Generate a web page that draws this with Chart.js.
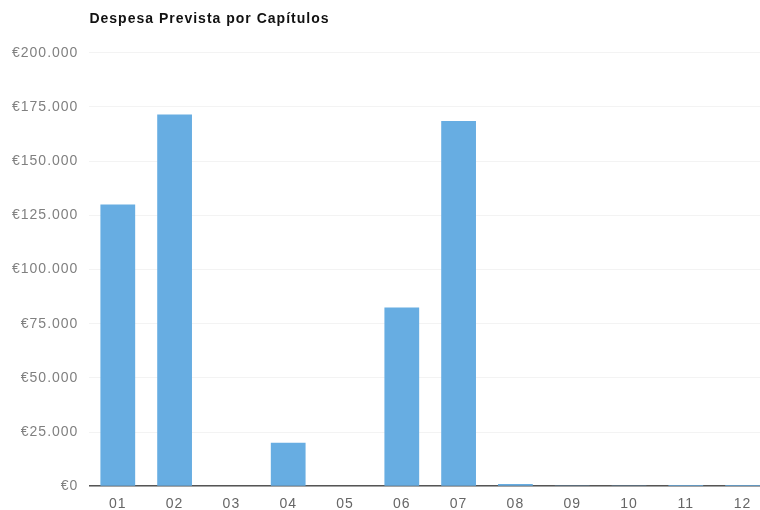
<!DOCTYPE html>
<html>
<head>
<meta charset="utf-8">
<script src="https://cdn.jsdelivr.net/npm/chart.js@4"></script>
<style>
  body { margin: 0; background: #fff; overflow: hidden; }
  #wrap { position: absolute; left: 0; top: 0; width: 771px; height: 515px; }
</style>
</head>
<body>
<div id="wrap"><canvas id="capitulosChart" width="771" height="515"></canvas></div>
<script>
const chapters = ['01', '02', '03', '04', '05', '06', '07', '08', '09', '10', '11', '12'];
const plannedSpend = [130000, 171500, 0, 20000, 0, 82500, 168500, 1000, 300, 300, 600, 600];
const yTicks = [0, 25000, 50000, 75000, 100000, 125000, 150000, 175000, 200000];

const ctx = document.getElementById('capitulosChart').getContext('2d');

function euro(value) {
    // portuguese style thousands: €25.000
    return '€' + value.toString().replace(/\B(?=(\d{3})+(?!\d))/g, '.');
}

// the scanned chart has loosely spaced lettering
const spacing = {
    id: 'spacing',
    beforeLayout: chart => { chart.ctx.letterSpacing = '1px'; },
    beforeDraw: chart => { chart.ctx.letterSpacing = '1px'; }
};

new Chart(ctx, {
    type: 'bar',
    data: {
        labels: chapters,
        datasets: [{
            label: 'Despesa Prevista',
            data: plannedSpend,
            backgroundColor: '#67ade2',
            borderWidth: 0,
            barPercentage: 0.68,
            categoryPercentage: 0.9
        }]
    },
    options: {
        responsive: false,
        animation: false,
        layout: { padding: { left: 1, right: 0, top: 4, bottom: 0 } },
        plugins: {
            legend: { display: false },
            tooltip: { enabled: false },
            title: {
                display: true,
                text: 'Despesa Prevista por Capítulos',
                align: 'start',
                fullSize: false,
                color: '#111',
                font: { family: 'Liberation Sans, Arial, sans-serif', size: 14, weight: 'bold' },
                padding: { top: 7, bottom: 25 }
            }
        },
        scales: {
            x: {
                grid: { display: false },
                border: { color: '#555', width: 1.5 },
                ticks: {
                    color: '#666',
                    padding: 2,
                    font: { family: 'Liberation Sans, Arial, sans-serif', size: 14 }
                }
            },
            y: {
                min: 0,
                max: 200000,
                afterBuildTicks: axis => { axis.ticks = yTicks.map(v => ({ value: v })); },
                border: { display: false },
                grid: { color: '#f3f3f3', drawTicks: false },
                ticks: {
                    color: '#808080',
                    padding: 11,
                    font: { family: 'Liberation Sans, Arial, sans-serif', size: 14 },
                    callback: value => euro(value)
                }
            }
        }
    },
    plugins: [spacing]
});
</script>
</body>
</html>
